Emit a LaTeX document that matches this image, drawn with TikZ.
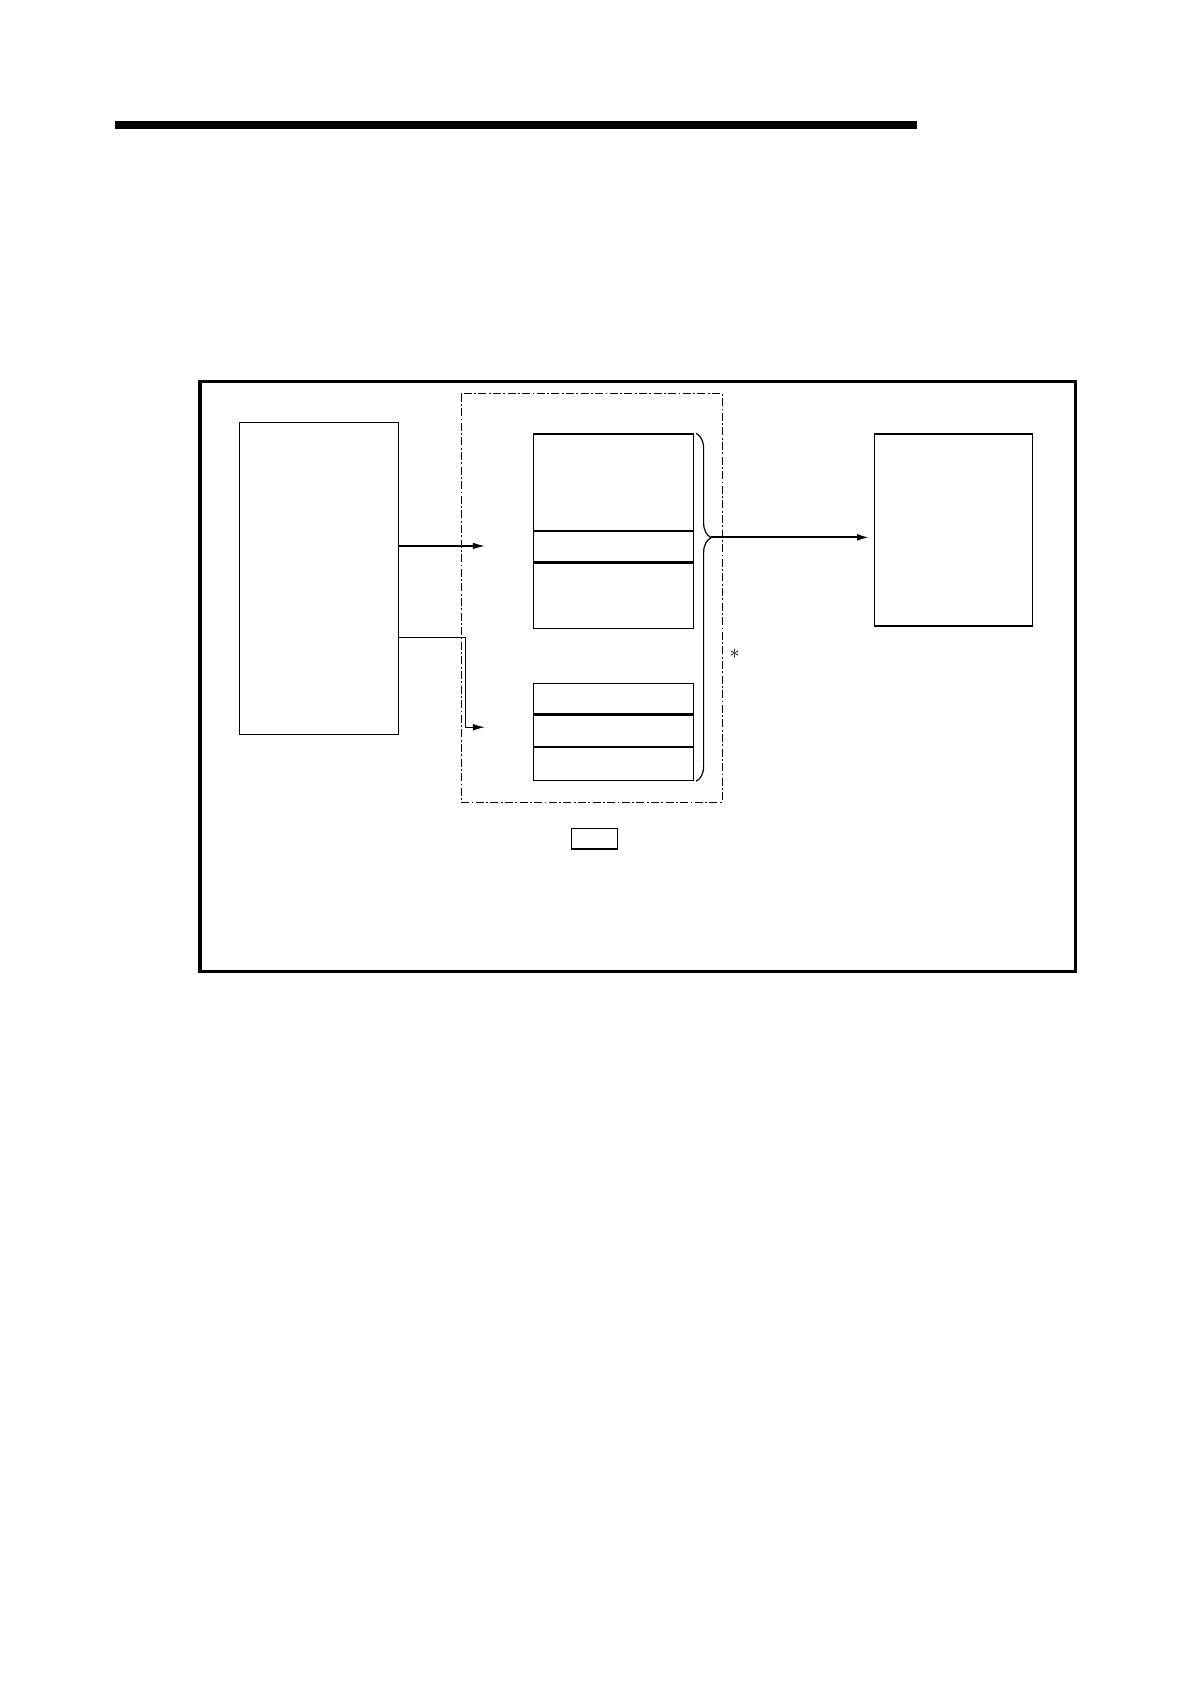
\documentclass[tikz,border=0pt]{standalone}
\usepackage{tikz}
\usetikzlibrary{positioning,arrows.meta,decorations.pathreplacing}

\begin{document}
\begin{tikzpicture}[
    x=0.5363pt, y=-0.5363pt,
    box/.style 2 args={rectangle, draw, line width=0.6pt, inner sep=0pt, anchor=north west,
        minimum width=#1*0.5363pt, minimum height=#2*0.5363pt},
    cell/.style={rectangle, draw, line width=0.6pt, inner sep=0pt,
        minimum width=149*0.5363pt, minimum height=#1*0.5363pt},
    group/.style={dash pattern=on 4pt off 1.2pt on 0.9pt off 1.2pt, line width=0.5pt},
    brace/.style={decorate, decoration={brace, amplitude=7.5pt, aspect=0.3}, line width=0.6pt},
    arrow/.style={-{Latex[length=6pt,width=3.4pt]}, line width=0.6pt}
]
    \useasboundingbox (0,0) rectangle (1110,1570);

    % heading rule
    \draw[line width=3.8pt] (107,116.5) -- (855,116.5);

    % frame
    \node[box={816}{550}, line width=1.6pt] (frame) at (185,354) {};
    \node[box={242}{380}, draw=none] (grp) at (430,367) {};
    \draw[group] (grp.north west) rectangle (grp.south east);

    \node[box={148}{291}] (src) at (223,393) {};
    \node[box={147}{179}] (dst) at (815,404) {};

    % upper stack
    \node[cell=90, anchor=north west] (u1) at (497,404) {};
    \node[cell=28, below=0pt of u1] (u2) {};
    \node[cell=61, below=0pt of u2] (u3) {};

    % lower stack
    \node[cell=28, anchor=north west] (l1) at (497,637) {};
    \node[cell=29, below=0pt of l1] (l2) {};
    \node[cell=31, below=0pt of l2] (l3) {};
    \draw[line width=1pt] (l3.north west) -- (l3.north east);

    \node[box={43}{19}] (tag) at (532,772) {};

    % arrows
    \coordinate (in1) at (452,509);
    \coordinate (bend) at (434,594);
    \coordinate (in2) at (452,678);
    \draw[arrow] (src.east |- in1) -- (in1);
    \draw[arrow] (src.east |- bend) -- (bend) |- (in2);

    \draw[brace] ([xshift=1pt]u1.north east) -- ([xshift=1pt]l3.south east);
    \coordinate (tip) at (663,501);
    \draw[arrow, line width=1pt, shorten >=2.5pt] (tip) -- (dst.west |- tip);

    \node (star) at (685,610) {$\ast$};
\end{tikzpicture}
\end{document}
